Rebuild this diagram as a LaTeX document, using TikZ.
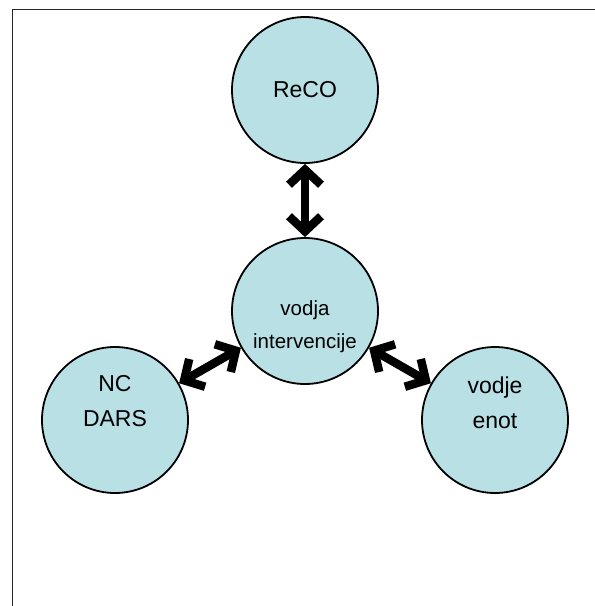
\documentclass[tikz,border=0pt]{standalone}
\usepackage{fontspec}
\setmainfont{Liberation Sans}
\usetikzlibrary{arrows.meta}
\definecolor{circfill}{RGB}{185,224,229}
\begin{document}
\begin{tikzpicture}[x=1pt,y=-1pt,
  bubble/.style={circle,draw=black,line width=1.8pt,fill=circfill,minimum size=146pt,inner sep=0pt},
  lbl/.style={align=center,font=\fontsize{23}{35}\selectfont},
  lblsmall/.style={align=center,font=\fontsize{20.5}{33}\selectfont},
  link/.style={line width=8.5pt,{Straight Barb[length=15pt,width=32pt]}-{Straight Barb[length=15pt,width=32pt]}},
  frame/.style={line width=1.5pt,draw=black!85}]
\useasboundingbox (0,0) rectangle (595,606);
\coordinate (fa) at (12.5,606);
\coordinate (fb) at (12.5,9.5);
\coordinate (fc) at (595,9.5);
\draw[frame] (fa) -- (fb) -- (fc);
\node[bubble] (reco) at (305,90) {};
\node[bubble] (mid) at (305,311) {};
\node[bubble] (nc) at (115,420) {};
\node[bubble] (enot) at (495,420) {};
\node[lbl] (treco) at (305,90) {ReCO};
\node[lblsmall] (tmid) at (305,327) {vodja\\intervencije};
\node[lbl] (tnc) at (115,401) {NC\\DARS};
\node[lbl] (tenot) at (495,403) {vodje\\enot};
\draw[link] (reco) -- (mid);
\draw[link] (nc) -- (mid);
\draw[link] (enot) -- (mid);
\end{tikzpicture}
\end{document}
